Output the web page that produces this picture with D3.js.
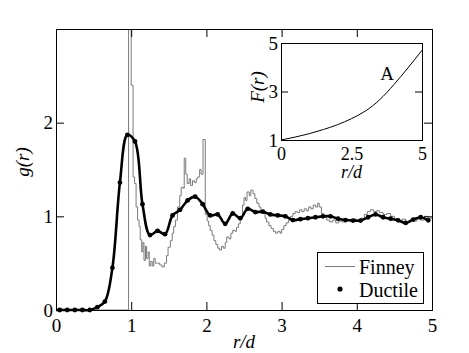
<!DOCTYPE html>
<html>
<head>
<meta charset="utf-8">
<script src="https://cdnjs.cloudflare.com/ajax/libs/d3/7.8.5/d3.min.js"></script>
<style>
    body { margin: 0; background: #fff; }
    svg text { font-family: "Liberation Serif", "DejaVu Serif", serif; fill: #000; }
    .axis path { display: none; }
    .axis line { stroke: #000; }
</style>
</head>
<body>
<div id="chart"></div>
<script>
'use strict';

// Finney histogram: start of each step and its g(r)
var finneyR = [0, 0.965, 1.0, 1.025, 1.045, 1.065, 1.085, 1.105, 1.12, 1.14, 1.155, 1.17, 1.19, 1.205, 1.225,
    1.24, 1.26, 1.28, 1.3, 1.32, 1.35, 1.38, 1.41, 1.44, 1.47, 1.49, 1.52, 1.545, 1.565, 1.59, 1.615,
    1.645, 1.665, 1.69, 1.705, 1.725, 1.745, 1.77, 1.79, 1.815, 1.84, 1.865, 1.885, 1.91, 1.93, 1.955,
    1.985, 2.01, 2.03, 2.05, 2.075, 2.1, 2.125, 2.15, 2.175, 2.2, 2.225, 2.25, 2.27, 2.3, 2.325, 2.35,
    2.38, 2.4, 2.425, 2.45, 2.48, 2.5, 2.52, 2.54, 2.57, 2.59, 2.62, 2.645, 2.67, 2.7, 2.725, 2.75,
    2.78, 2.8, 2.83, 2.86, 2.89, 2.92, 2.95, 2.98, 3.0, 3.03, 3.06, 3.09, 3.12, 3.15, 3.18, 3.21, 3.24,
    3.27, 3.3, 3.33, 3.36, 3.39, 3.42, 3.45, 3.48, 3.5, 3.53, 3.56, 3.6, 3.64, 3.68, 3.72, 3.76, 3.8,
    3.85, 3.9, 3.95, 4.0, 4.05, 4.1, 4.14, 4.18, 4.22, 4.26, 4.3, 4.35, 4.4, 4.45, 4.5, 4.55, 4.6,
    4.65, 4.7, 4.75, 4.8, 4.85, 4.9, 4.95, 5.0];
var finneyG = [0, 3.6, 2.4, 1.42, 1.35, 1.1, 0.96, 0.89, 0.75, 0.62, 0.72, 0.53, 0.68, 0.55, 0.62,
    0.47, 0.52, 0.47, 0.55, 0.5, 0.5, 0.48, 0.46, 0.5, 0.58, 0.67, 0.74, 0.82, 0.89, 0.96, 1.1,
    1.22, 1.31, 1.3, 1.62, 1.45, 1.35, 1.4, 1.33, 1.38, 1.36, 1.4, 1.42, 1.5, 1.45, 1.82,
    1.02, 0.95, 0.9, 0.85, 0.8, 0.74, 0.7, 0.66, 0.64, 0.68, 0.66, 0.72, 0.78, 0.76, 0.82, 0.85,
    0.84, 0.88, 0.92, 0.98, 1.12, 1.2, 1.17, 1.26, 1.22, 1.28, 1.24, 1.19, 1.14, 1.1, 1.06, 1.03,
    0.98, 0.94, 0.9, 0.87, 0.84, 0.82, 0.84, 0.82, 0.86, 0.9, 0.93, 0.96, 1.0, 1.03, 1.05, 1.04, 1.07,
    1.05, 1.08, 1.06, 1.1, 1.08, 1.12, 1.1, 1.14, 1.1, 1.03, 0.99, 0.96, 0.94, 0.96, 0.93, 0.95, 0.94,
    0.96, 0.95, 0.97, 0.95, 0.98, 1.02, 1.05, 1.07, 1.05, 1.06, 1.04, 1.02, 1.03, 1.0, 0.97, 0.95, 0.97,
    0.94, 0.96, 0.95, 0.97, 0.96, 1.0, 0.98, 0.98];

// Ductile simulation points
var ductileR = [0.05, 0.15, 0.25, 0.35, 0.45, 0.55, 0.65, 0.75, 0.85, 0.95, 1.05, 1.15, 1.25, 1.35, 1.45,
    1.55, 1.65, 1.75, 1.85, 1.95, 2.05, 2.15, 2.25, 2.35, 2.45, 2.55, 2.65, 2.75, 2.85, 2.95, 3.05,
    3.15, 3.25, 3.35, 3.45, 3.55, 3.65, 3.75, 3.85, 3.95, 4.05, 4.15, 4.25, 4.35, 4.45, 4.55, 4.65,
    4.75, 4.85, 4.95];
var ductileG = [0, 0, 0, 0, 0, 0.03, 0.09, 0.45, 1.36, 1.87, 1.8, 1.13, 0.80, 0.845, 0.81,
    1.01, 1.07, 1.17, 1.21, 1.13, 1.01, 1.02, 0.92, 1.03, 0.98, 1.08, 1.045, 1.05, 1.02, 1.01, 1.0,
    0.96, 0.97, 0.98, 0.99, 1.0, 1.0, 0.975, 0.96, 0.955, 0.955, 0.99, 1.02, 0.99, 0.975, 0.957, 0.93,
    0.965, 0.99, 0.957];

// inset: F(r)
var insetR = [0, 0.5, 1, 1.5, 2, 2.5, 3, 3.5, 4, 4.5, 5];
var insetF = [1.0, 1.12, 1.26, 1.43, 1.63, 1.88, 2.2, 2.66, 3.28, 3.97, 4.7];

var xTicks = [0, 1, 2, 3, 4, 5],
    yTicks = [0, 1, 2],
    insetXTicks = [0, 2.5, 5],
    insetYTicks = [1, 3, 5];

var W = 469, H = 353,
    margin = {top: 29, right: 37, bottom: 43, left: 56},
    width = W - margin.left - margin.right,
    height = H - margin.top - margin.bottom,
    serif = "Liberation Serif, DejaVu Serif, serif";

var svg = d3.select("#chart").append("svg")
    .attr("width", W)
    .attr("height", H);

var g = svg.append("g")
    .attr("transform", "translate(" + margin.left + "," + margin.top + ")");

var x = d3.scaleLinear().domain([0, 5]).range([0, width]),
    y = d3.scaleLinear().domain([0, 3]).range([height, 0]);

g.append("clipPath").attr("id", "clip")
    .append("rect").attr("width", width).attr("height", height);

//Finney steps
var finney = finneyR.map(function(r, i) { return [r, finneyG[i]]; });
g.append("path")
    .datum(finney)
    .attr("clip-path", "url(#clip)")
    .attr("fill", "none")
    .attr("stroke", "#7a7a7a")
    .attr("stroke-width", 1)
    .attr("d", d3.line()
        .x(function(d) { return x(d[0]); })
        .y(function(d) { return y(d[1]); })
        .curve(d3.curveStepAfter));

//Ductile curve + dots
var ductile = ductileR.map(function(r, i) { return [r, ductileG[i]]; });
g.append("path")
    .datum([[0, 0]].concat(ductile))
    .attr("fill", "none")
    .attr("stroke", "#000")
    .attr("stroke-width", 2.6)
    .attr("d", d3.line()
        .x(function(d) { return x(d[0]); })
        .y(function(d) { return y(d[1]); })
        .curve(d3.curveCatmullRom.alpha(0.5)));

g.append("g")
    .selectAll("circle")
    .data(ductile)
    .enter().append("circle")
    .attr("cx", function(d) { return x(d[0]); })
    .attr("cy", function(d) { return y(d[1]); })
    .attr("r", 2.4)
    .attr("fill", "#000");

function styleText(sel, size) {
    sel.attr("font-family", null).attr("font-size", null);
    sel.selectAll("text")
        .style("font-size", size + "px");
}

//axes with inward ticks
g.append("g").attr("class", "axis")
    .attr("transform", "translate(0," + height + ")")
    .call(d3.axisBottom(x).tickValues(xTicks).tickFormat(d3.format("d"))
        .tickSizeInner(-8).tickSizeOuter(0).tickPadding(9))
    .call(styleText, 19);
g.append("g").attr("class", "axis")
    .call(d3.axisTop(x).tickValues([1, 2, 3, 4]).tickFormat("").tickSizeInner(-8).tickSizeOuter(0));
g.append("g").attr("class", "axis")
    .call(d3.axisLeft(y).tickValues(yTicks).tickFormat(d3.format("d"))
        .tickSizeInner(-8).tickSizeOuter(0).tickPadding(3))
    .call(styleText, 19);
g.append("g").attr("class", "axis")
    .attr("transform", "translate(" + width + ",0)")
    .call(d3.axisRight(y).tickValues([1, 2]).tickFormat("").tickSizeInner(-8).tickSizeOuter(0));

g.append("rect")
    .attr("x", 0.5).attr("y", 0.5)
    .attr("width", width).attr("height", height)
    .attr("fill", "none").attr("stroke", "#000");

g.append("text")
    .attr("x", width / 2).attr("y", height + 38)
    .attr("text-anchor", "middle")
    .style("font-size", "19px").style("font-style", "italic")
    .text("r/d");
svg.append("text")
    .attr("transform", "translate(29,162) rotate(-90)")
    .attr("text-anchor", "middle")
    .style("font-size", "19px").style("font-style", "italic")
    .text("g(r)");

//legend
var legend = svg.append("g").attr("transform", "translate(317,252)");
legend.append("rect")
    .attr("x", 0.5).attr("y", 0.5).attr("width", 106).attr("height", 51)
    .attr("fill", "#fff").attr("stroke", "#000");
legend.append("line")
    .attr("x1", 8).attr("x2", 38).attr("y1", 14.5).attr("y2", 14.5)
    .attr("stroke", "#7a7a7a");
legend.append("text").attr("x", 42).attr("y", 22).style("font-size", "20px").text("Finney");
legend.append("circle").attr("cx", 23).attr("cy", 37).attr("r", 2.6).attr("fill", "#000");
legend.append("text").attr("x", 42).attr("y", 45).style("font-size", "20px").text("Ductile");

//inset
var ix = d3.scaleLinear().domain([0, 5]).range([0, 141]),
    iy = d3.scaleLinear().domain([1, 5]).range([97, 0]);
var inset = svg.append("g").attr("transform", "translate(281,43)");

inset.append("rect")
    .attr("x", 0.5).attr("y", 0.5).attr("width", 141).attr("height", 97)
    .attr("fill", "#fff").attr("stroke", "#000");

inset.append("path")
    .datum(insetR.map(function(r, i) { return [r, insetF[i]]; }))
    .attr("fill", "none")
    .attr("stroke", "#000")
    .attr("stroke-width", 1)
    .attr("d", d3.line()
        .x(function(d) { return ix(d[0]); })
        .y(function(d) { return iy(d[1]); })
        .curve(d3.curveNatural));

inset.append("g").attr("class", "axis")
    .attr("transform", "translate(0,97)")
    .call(d3.axisBottom(ix).tickValues(insetXTicks).tickFormat(function(d) { return d === 2.5 ? "2.5" : d; })
        .tickSize(0).tickPadding(7))
    .call(styleText, 18);
inset.append("g").attr("class", "axis")
    .call(d3.axisLeft(iy).tickValues(insetYTicks).tickFormat(d3.format("d"))
        .tickSize(0).tickPadding(3))
    .call(styleText, 19);
inset.append("g").attr("class", "axis")
    .call(d3.axisLeft(iy).tickValues([3]).tickFormat("").tickSizeInner(-7).tickSizeOuter(0));
inset.append("g").attr("class", "axis")
    .attr("transform", "translate(141,0)")
    .call(d3.axisRight(iy).tickValues([3]).tickFormat("").tickSizeInner(-7).tickSizeOuter(0));

inset.append("text")
    .attr("x", 70.5).attr("y", 135)
    .attr("text-anchor", "middle")
    .style("font-size", "18px").style("font-style", "italic")
    .text("r/d");
inset.append("text")
    .attr("transform", "translate(-17,44) rotate(-90)")
    .attr("text-anchor", "middle")
    .style("font-size", "19px").style("font-style", "italic")
    .text("F(r)");
inset.append("text")
    .attr("x", 106).attr("y", 37)
    .attr("text-anchor", "middle")
    .style("font-size", "19px")
    .text("A");
</script>
</body>
</html>
